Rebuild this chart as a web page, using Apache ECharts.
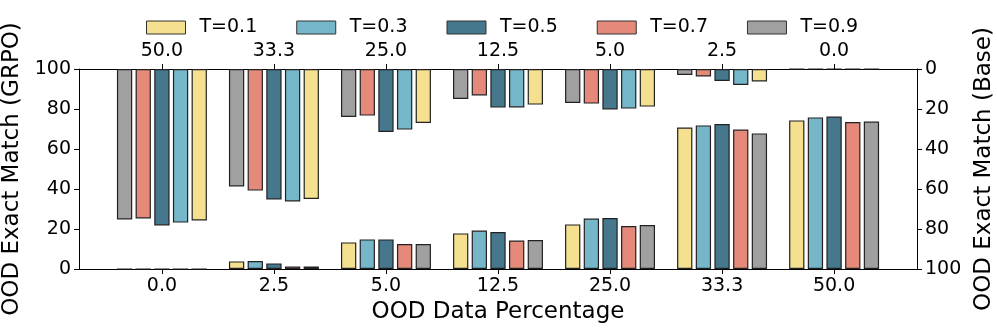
<!DOCTYPE html>
<html>
<head>
<meta charset="utf-8">
<script src="https://cdn.jsdelivr.net/npm/echarts@6/dist/echarts.min.js"></script>
<style>
  html, body { margin: 0; padding: 0; background: #fff; }
  #chart { width: 997px; height: 333px; }
</style>
</head>
<body>
<div id="chart"></div>
<script>
// bottom axis (GRPO) and top axis (Base) categories
const grpoCats = ['0.0', '2.5', '5.0', '12.5', '25.0', '33.3', '50.0'];
const baseCats = ['50.0', '33.3', '25.0', '12.5', '5.0', '2.5', '0.0'];
const temps = ['T=0.1', 'T=0.3', 'T=0.5', 'T=0.7', 'T=0.9'];
const colors = ['#F5E08F', '#76B6C9', '#45778D', '#E5897A', '#A0A0A0'];
const yTicks = [0, 20, 40, 60, 80, 100];

// GRPO exact match, bars grow from the bottom
const grpoT01 = [0, 3.8, 13.3, 17.8, 22.3, 70.7, 74.3];
const grpoT03 = [0, 4.0, 14.8, 19.2, 25.2, 71.8, 75.8];
const grpoT05 = [0, 2.8, 14.8, 18.5, 25.5, 72.5, 76.2];
const grpoT07 = [0, 1.3, 12.5, 14.2, 21.5, 69.7, 73.5];
const grpoT09 = [0, 1.2, 12.5, 14.5, 22.0, 67.8, 73.7];

// Base exact match, bars hang from the top (order of baseCats)
const baseT01 = [75.7, 65.0, 27.0, 17.8, 18.8, 6.2, 0];
const baseT03 = [76.8, 66.2, 30.3, 19.2, 19.8, 8.0, 0];
const baseT05 = [78.2, 65.2, 31.5, 19.3, 20.2, 6.0, 0];
const baseT07 = [74.7, 60.8, 23.3, 13.2, 17.3, 3.7, 0];
const baseT09 = [75.2, 58.7, 24.0, 15.0, 17.0, 3.0, 0];

const grpoData = [grpoT01, grpoT03, grpoT05, grpoT07, grpoT09];
const baseData = [baseT01, baseT03, baseT05, baseT07, baseT09];

const font = 'DejaVu Sans';
const catIdx = grpoCats.map((c, i) => i);
const axisLine = { show: true, onZero: false, lineStyle: { color: '#000', width: 1 } };

function xAxisOf(cats, pos, extra) {
  return Object.assign({
    type: 'value',
    position: pos,
    min: -0.74,
    max: cats.length - 1 + 0.74,
    axisLine: axisLine,
    axisTick: { show: true, length: 5, customValues: catIdx, lineStyle: { color: '#000' } },
    axisLabel: {
      fontSize: 19, color: '#000', margin: 8, fontFamily: font,
      customValues: catIdx,
      formatter: v => cats[Math.round(v)]
    },
    splitLine: { show: false }
  }, extra);
}

function yAxisOf(pos, extra) {
  return Object.assign({
    type: 'value',
    min: yTicks[0],
    max: yTicks[yTicks.length - 1],
    interval: 20,
    position: pos,
    nameLocation: 'middle',
    nameTextStyle: { fontSize: 23, color: '#000', fontFamily: font },
    axisLine: axisLine,
    axisTick: { show: true, length: 5, lineStyle: { color: '#000' } },
    axisLabel: { fontSize: 19, color: '#000', margin: 8, fontFamily: font },
    splitLine: { show: false }
  }, extra);
}

function barSeries(name, color, xi, values) {
  return {
    name: name,
    type: 'bar',
    xAxisIndex: xi,
    yAxisIndex: xi,
    data: values.map((v, i) => [i, v]),
    barWidth: 15.3,
    barGap: '22%',
    itemStyle: { color: color, borderColor: '#222', borderWidth: 1.2 }
  };
}

let series = [];
for (let i = 0; i < temps.length; i++) {
  series.push(barSeries(temps[i], colors[i], 0, grpoData[i]));
}
// top bars are ordered the other way round (T=0.9 on the left)
for (let i = temps.length - 1; i >= 0; i--) {
  series.push(barSeries(temps[i], colors[i], 1, baseData[i]));
}

let chart = echarts.init(document.getElementById('chart'));
let option = {
  animation: false,
  textStyle: { fontFamily: font },
  legend: {
    data: temps,
    top: 13,
    left: 141,
    icon: 'rect',
    itemWidth: 39,
    itemHeight: 13,
    itemGap: 39,
    textStyle: { fontSize: 19, color: '#000', fontFamily: font, padding: [0, 0, 0, 9] },
    itemStyle: { borderColor: '#333', borderWidth: 1 }
  },
  grid: { left: 79, right: 80, top: 69, bottom: 64, outerBoundsMode: 'none' },
  xAxis: [
    xAxisOf(grpoCats, 'bottom', {
      name: 'OOD Data Percentage',
      nameLocation: 'middle',
      nameGap: 30,
      nameTextStyle: { fontSize: 23, color: '#000', fontFamily: font }
    }),
    xAxisOf(baseCats, 'top', {})
  ],
  yAxis: [
    yAxisOf('left', { name: 'OOD Exact Match (GRPO)', nameGap: 51 }),
    yAxisOf('right', { name: 'OOD Exact Match (Base)', nameGap: 53, inverse: true, nameRotate: 90 })
  ],
  series: series
};
chart.setOption(option);
</script>
</body>
</html>
